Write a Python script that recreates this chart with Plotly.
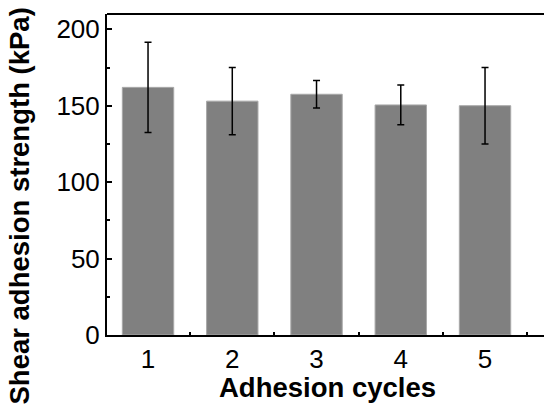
import plotly.graph_objects as go

cycles = [1, 2, 3, 4, 5]
strength = [162, 153, 157.5, 150.5, 150]
err = [29.5, 22, 9, 13, 25]
tick_vals_y = [0, 50, 100, 150, 200]

FONT = "Liberation Sans, Arial, sans-serif"

fig = go.Figure()
fig.add_trace(go.Bar(
    x=cycles, y=strength, width=0.61,
    marker=dict(color="#808080", line=dict(color="#a8a8a8", width=1)),
    error_y=dict(type="data", array=err, visible=True, color="black",
                 thickness=1.5, width=3.5),
))

fig.update_layout(
    width=544, height=414,
    margin=dict(l=107, r=0, t=14, b=79),
    plot_bgcolor="white", paper_bgcolor="white",
    showlegend=False,
    font=dict(family=FONT, color="black"),
    xaxis=dict(
        range=[0.513, 5.70], tickmode="array", tickvals=cycles,
        ticks="inside", ticklen=5, tickwidth=1.5, tickcolor="black",
        minor=dict(dtick=0.5, tick0=0.5, ticks="inside", ticklen=3, tickwidth=1.5, tickcolor="black"),
        showline=True, linecolor="black", linewidth=2,
        showgrid=False, zeroline=False, layer="below traces",
        tickfont=dict(size=26, family=FONT),
    ),
    yaxis=dict(
        range=[0, 210], tickmode="array", tickvals=tick_vals_y,
        ticks="inside", ticklen=5, tickwidth=1.5, tickcolor="black",
        minor=dict(dtick=25, tick0=0, ticks="inside", ticklen=3, tickwidth=1.5, tickcolor="black"),
        showline=True, linecolor="black", linewidth=2,
        showgrid=False, zeroline=False,
        tickfont=dict(size=26, family=FONT),
    ),
    shapes=[dict(type="line", xref="paper", yref="paper", x0=0, x1=1.01, y0=1, y1=1,
                 line=dict(color="black", width=2))],
    annotations=[
        dict(text="<b>Adhesion cycles</b>", xref="paper", yref="paper",
             x=(327.5 - 107) / 437, y=(335 - 387) / 321, xanchor="center", yanchor="middle",
             showarrow=False, font=dict(size=27.5, family=FONT)),
        dict(text="<b>Shear adhesion strength (kPa)</b>", xref="paper", yref="paper",
             x=(19 - 107) / 437, y=(335 - 206.5) / 321, xanchor="center", yanchor="middle",
             textangle=-90, showarrow=False, font=dict(size=27.5, family=FONT)),
    ],
)

fig.write_html("out.html")
